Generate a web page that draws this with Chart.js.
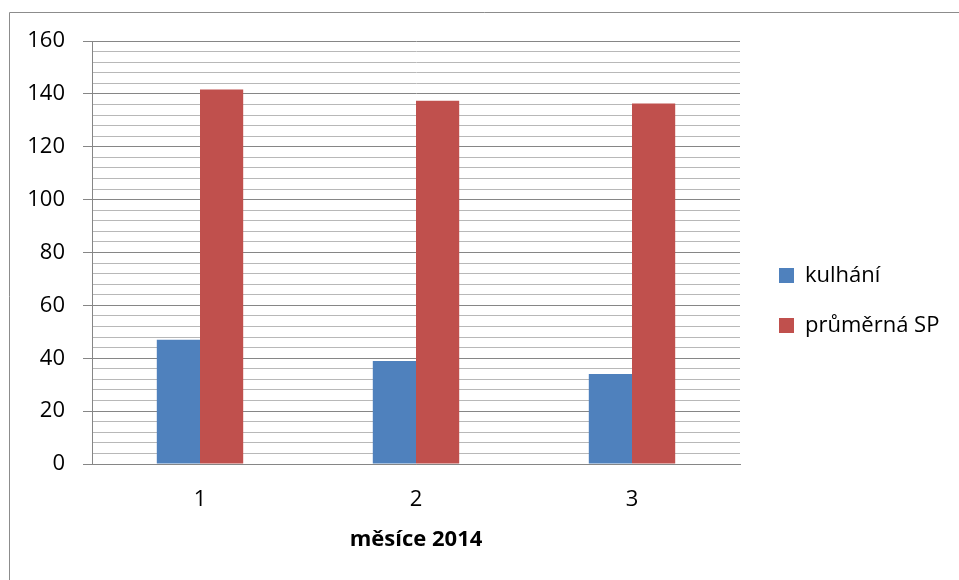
<!DOCTYPE html>
<html>
<head>
<meta charset="utf-8">
<script src="https://cdn.jsdelivr.net/npm/chart.js@4/dist/chart.umd.min.js"></script>
<style>
  html, body { margin: 0; padding: 0; background: #ffffff; }
  #wrap { width: 959px; height: 580px; position: relative; }
</style>
</head>
<body>
<div id="wrap"><canvas id="c" width="959" height="580"></canvas></div>
<script>
// Months of 2014 and the two measured series
const months = ['1', '2', '3'];
const kulhani = [47, 39, 34];
const prumernaSP = [141.7, 137.4, 136.4];
const seriesNames = ['kulhání', 'průměrná SP'];
const axisTitle = 'měsíce 2014';

const FONT = '"Open Sans", Lato, sans-serif';
const LEGEND_WIDTH = 219;   // fixed width of the right-hand legend column
const LEGEND_GAP = 11;      // gap between plot edge and legend content

// Thin frame on the left and top of the canvas, and fixed legend geometry
const framePlugin = {
  id: 'frame',
  beforeLayout(chart) {
    const lg = chart.legend;
    if (lg && !lg._fixedWidth) {
      const origFit = lg.fit;
      lg.fit = function () {
        origFit.call(this);
        this.width = LEGEND_WIDTH;
      };
      lg._fixedWidth = true;
    }
  },
  afterLayout(chart) {
    if (chart.legend) {
      chart.legend.left += LEGEND_GAP;
      chart.legend.right += LEGEND_GAP;
    }
  },
  beforeDraw(chart) {
    const ctx = chart.ctx;
    ctx.save();
    ctx.strokeStyle = '#8c8c8c';
    ctx.lineWidth = 1;
    ctx.beginPath();
    ctx.moveTo(9.5, 580);
    ctx.lineTo(9.5, 12.5);
    ctx.lineTo(959, 12.5);
    ctx.stroke();
    ctx.restore();
  }
};

new Chart(document.getElementById('c'), {
  type: 'bar',
  data: {
    labels: months,
    datasets: [
      { label: seriesNames[0], data: kulhani, backgroundColor: '#4F81BD' },
      { label: seriesNames[1], data: prumernaSP, backgroundColor: '#C0504D' }
    ]
  },
  options: {
    responsive: false,
    animation: false,
    devicePixelRatio: 1,
    layout: { padding: { top: 41, left: 0, right: 0, bottom: 20 } },
    datasets: { bar: { categoryPercentage: 0.4, barPercentage: 1.0 } },
    plugins: {
      tooltip: { enabled: false },
      legend: {
        position: 'right',
        align: 'center',
        labels: {
          boxWidth: 15,
          boxHeight: 15,
          padding: 28,
          color: '#000000',
          font: { family: FONT, size: 22 }
        }
      }
    },
    scales: {
      x: {
        grid: { display: false, drawTicks: false },
        border: { display: true, color: '#868686', width: 1 },
        ticks: { color: '#000000', padding: 23, font: { family: FONT, size: 22 } },
        title: {
          display: true,
          text: axisTitle,
          color: '#000000',
          font: { family: FONT, size: 22, weight: 'bold' },
          padding: { top: 4, bottom: 7 }
        },
        afterFit(scale) { scale.height = 96; }
      },
      y: {
        min: 0,
        max: 160,
        ticks: {
          stepSize: 4,
          autoSkip: false,
          color: '#000000',
          padding: 18,
          font: { family: FONT, size: 22 },
          callback: (v) => (v % 20 === 0 ? String(v) : '')
        },
        grid: {
          color: (c) => (c.tick && c.tick.value % 20 === 0 ? '#868686' : '#b8b8b8'),
          tickColor: (c) => (c.tick && c.tick.value % 20 === 0 ? '#868686' : 'rgba(0,0,0,0)'),
          tickLength: 9,
          lineWidth: 1
        },
        border: { display: true, color: '#868686', width: 1 },
        afterFit(scale) { scale.width = 92; }
      }
    }
  },
  plugins: [framePlugin]
});
</script>
</body>
</html>
